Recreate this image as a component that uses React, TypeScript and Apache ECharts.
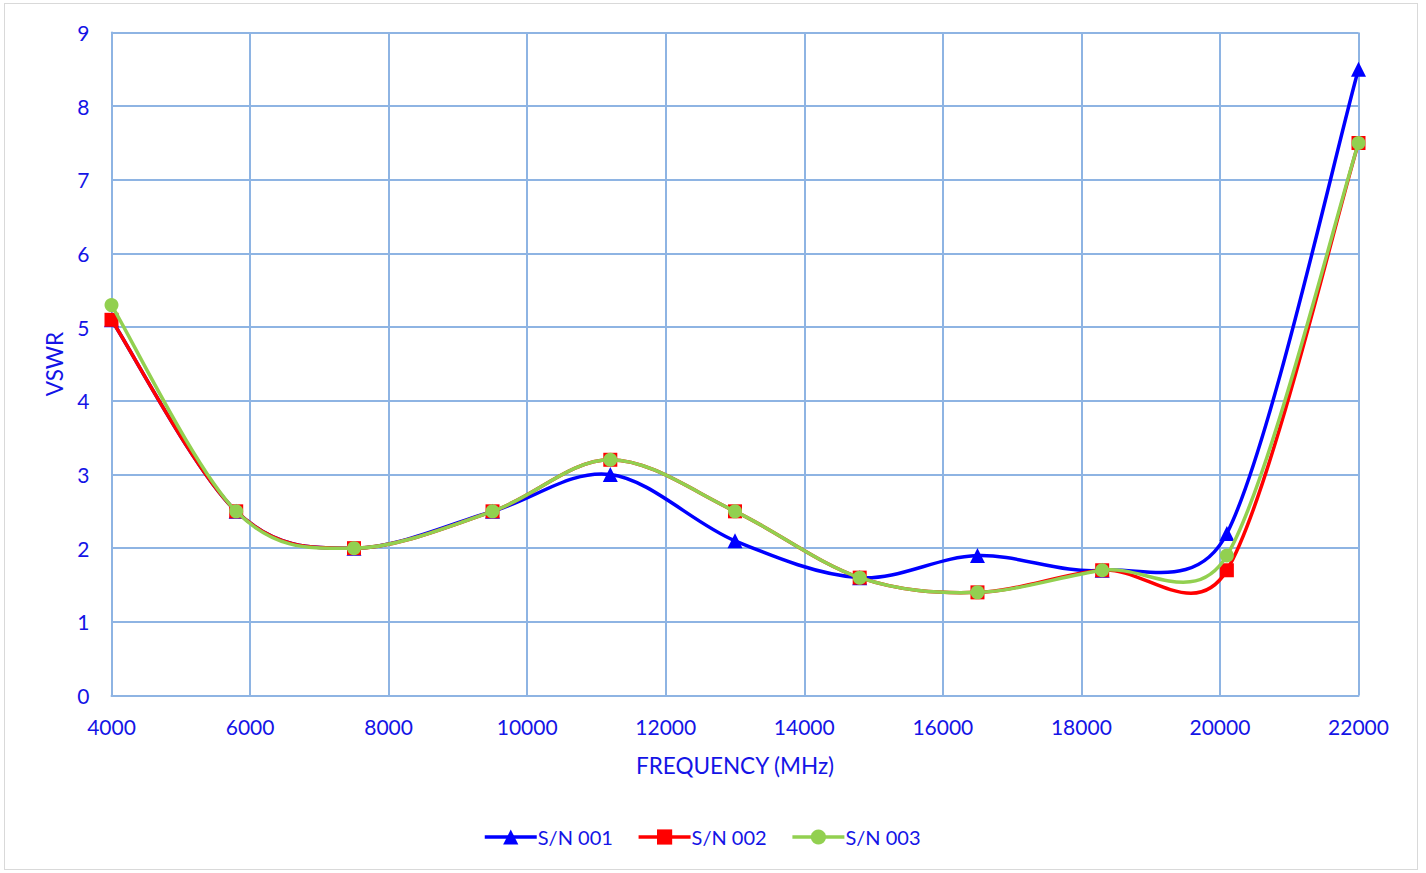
import React, { useEffect, useRef } from "react";
import * as echarts from "echarts";

const freqs = [4000, 5800, 7500, 9500, 11200, 13000, 14800, 16500, 18300, 20100, 22000];
const sn001 = [5.1, 2.5, 2.0, 2.5, 3.0, 2.1, 1.6, 1.9, 1.7, 2.2, 8.5];
const sn002 = [5.1, 2.5, 2.0, 2.5, 3.2, 2.5, 1.6, 1.4, 1.7, 1.7, 7.5];
const sn003 = [5.3, 2.5, 2.0, 2.5, 3.2, 2.5, 1.6, 1.4, 1.7, 1.9, 7.5];
const seriesNames = ["S/N 001", "S/N 002", "S/N 003"];
const seriesValues = [sn001, sn002, sn003];
const seriesColors = ["#0000FF", "#FF0000", "#92D050"];
const seriesSymbols = ["triangle", "rect", "circle"];

const FONT = "Lato, 'Open Sans', sans-serif";
const TXT = "#1414E6";
const GRID = "#8EB4E3";

// Excel-like smoothing: Bezier control points at 1/6 of neighbour chord,
// limited to half the segment length.
function excelSmoothPath(pts: number[][]): string {
  const n = pts.length;
  if (n === 0) return "";
  let d = `M${pts[0][0]},${pts[0][1]}`;
  const dist = (a: number[], b: number[]) => Math.hypot(b[0] - a[0], b[1] - a[1]);
  for (let i = 0; i < n - 1; i++) {
    const p0 = pts[i - 1] || pts[i];
    const p1 = pts[i];
    const p2 = pts[i + 1];
    const p3 = pts[i + 2] || pts[i + 1];
    const d12 = dist(p1, p2);
    const d02 = dist(p0, p2);
    const d13 = dist(p1, p3);
    let f1 = 1 / 6;
    let f2 = 1 / 6;
    if (d02 / 6 > d12 / 2 && d02 > 0) f1 = d12 / 2 / d02;
    if (d13 / 6 > d12 / 2 && d13 > 0) f2 = d12 / 2 / d13;
    const c1 = [p1[0] + (p2[0] - p0[0]) * f1, p1[1] + (p2[1] - p0[1]) * f1];
    const c2 = [p2[0] - (p3[0] - p1[0]) * f2, p2[1] - (p3[1] - p1[1]) * f2];
    d += ` C${c1[0]},${c1[1]} ${c2[0]},${c2[1]} ${p2[0]},${p2[1]}`;
  }
  return d;
}

export default function App() {
  const ref = useRef<HTMLDivElement>(null);
  useEffect(() => {
    document.body.style.margin = "0";
    const chart = echarts.init(ref.current!, null, { renderer: "svg" });
    const mk = (vals: number[]) => freqs.map((f, i) => [f, vals[i]]);

    const markerSeries = seriesNames.map((name, k) => ({
      name,
      type: "line",
      data: mk(seriesValues[k]),
      symbol: seriesSymbols[k],
      symbolSize: k === 0 ? 15 : 14,
      lineStyle: { color: seriesColors[k], width: 3.5, opacity: 0 },
      itemStyle: { color: seriesColors[k] },
      z: 2 + k * 2,
    }));

    const curveSeries = seriesNames.map((name, k) => ({
      name,
      type: "custom",
      data: mk(seriesValues[k]),
      z: 1 + k * 2,
      silent: true,
      renderItem: (params: any, api: any) => {
        if (params.dataIndex !== 0) return null;
        const pts = freqs.map((f, i) => api.coord([f, seriesValues[k][i]]));
        return {
          type: "path",
          shape: { pathData: excelSmoothPath(pts) },
          style: { stroke: seriesColors[k], lineWidth: 3.5, fill: "none", lineJoin: "round", lineCap: "round" },
        };
      },
    }));

    chart.setOption({
      animation: false,
      backgroundColor: "#fff",
      grid: { left: 106.5, right: 58.5, top: 28.5, bottom: 173.5, containLabel: false },
      xAxis: {
        type: "value",
        min: 4000,
        max: 22000,
        interval: 2000,
        name: "FREQUENCY (MHz)",
        nameLocation: "middle",
        nameGap: 58,
        nameTextStyle: { color: TXT, fontSize: 22.5, fontFamily: FONT },
        axisLine: { show: true, lineStyle: { color: GRID, width: 2 } },
        axisTick: { show: false },
        axisLabel: {
          color: TXT,
          fontSize: 21,
          fontFamily: FONT,
          margin: 20,
          formatter: (v: number) => String(v),
        },
        splitLine: { show: true, lineStyle: { color: GRID, width: 2 } },
      },
      yAxis: {
        type: "value",
        min: 0,
        max: 9,
        interval: 1,
        name: "VSWR",
        nameLocation: "middle",
        nameGap: 46,
        nameRotate: 90,
        nameTextStyle: { color: TXT, fontSize: 22.5, fontFamily: FONT },
        axisLine: { show: true, lineStyle: { color: GRID, width: 2 } },
        axisTick: { show: false },
        axisLabel: { color: TXT, fontSize: 21, fontFamily: FONT, margin: 22 },
        splitLine: { show: true, lineStyle: { color: GRID, width: 2 } },
      },
      legend: {
        bottom: 17,
        left: 473,
        itemWidth: 52,
        itemHeight: 19,
        itemGap: 24,
        lineStyle: { width: 3.5, opacity: 1 },
        textStyle: { color: TXT, fontSize: 20, fontFamily: FONT, padding: [0, 0, 0, -4] },
        data: seriesNames,
      },
      series: [...markerSeries, ...curveSeries],
    });
    return () => chart.dispose();
  }, []);
  return (
    <div style={{ position: "fixed", left: 0, top: 0, width: 1426, height: 873, background: "#fff" }}>
      <div
        ref={ref}
        style={{
          position: "absolute",
          left: 4,
          top: 3,
          width: 1414,
          height: 867,
          border: "1.5px solid #D9D9D9",
          boxSizing: "border-box",
        }}
      />
    </div>
  );
}
